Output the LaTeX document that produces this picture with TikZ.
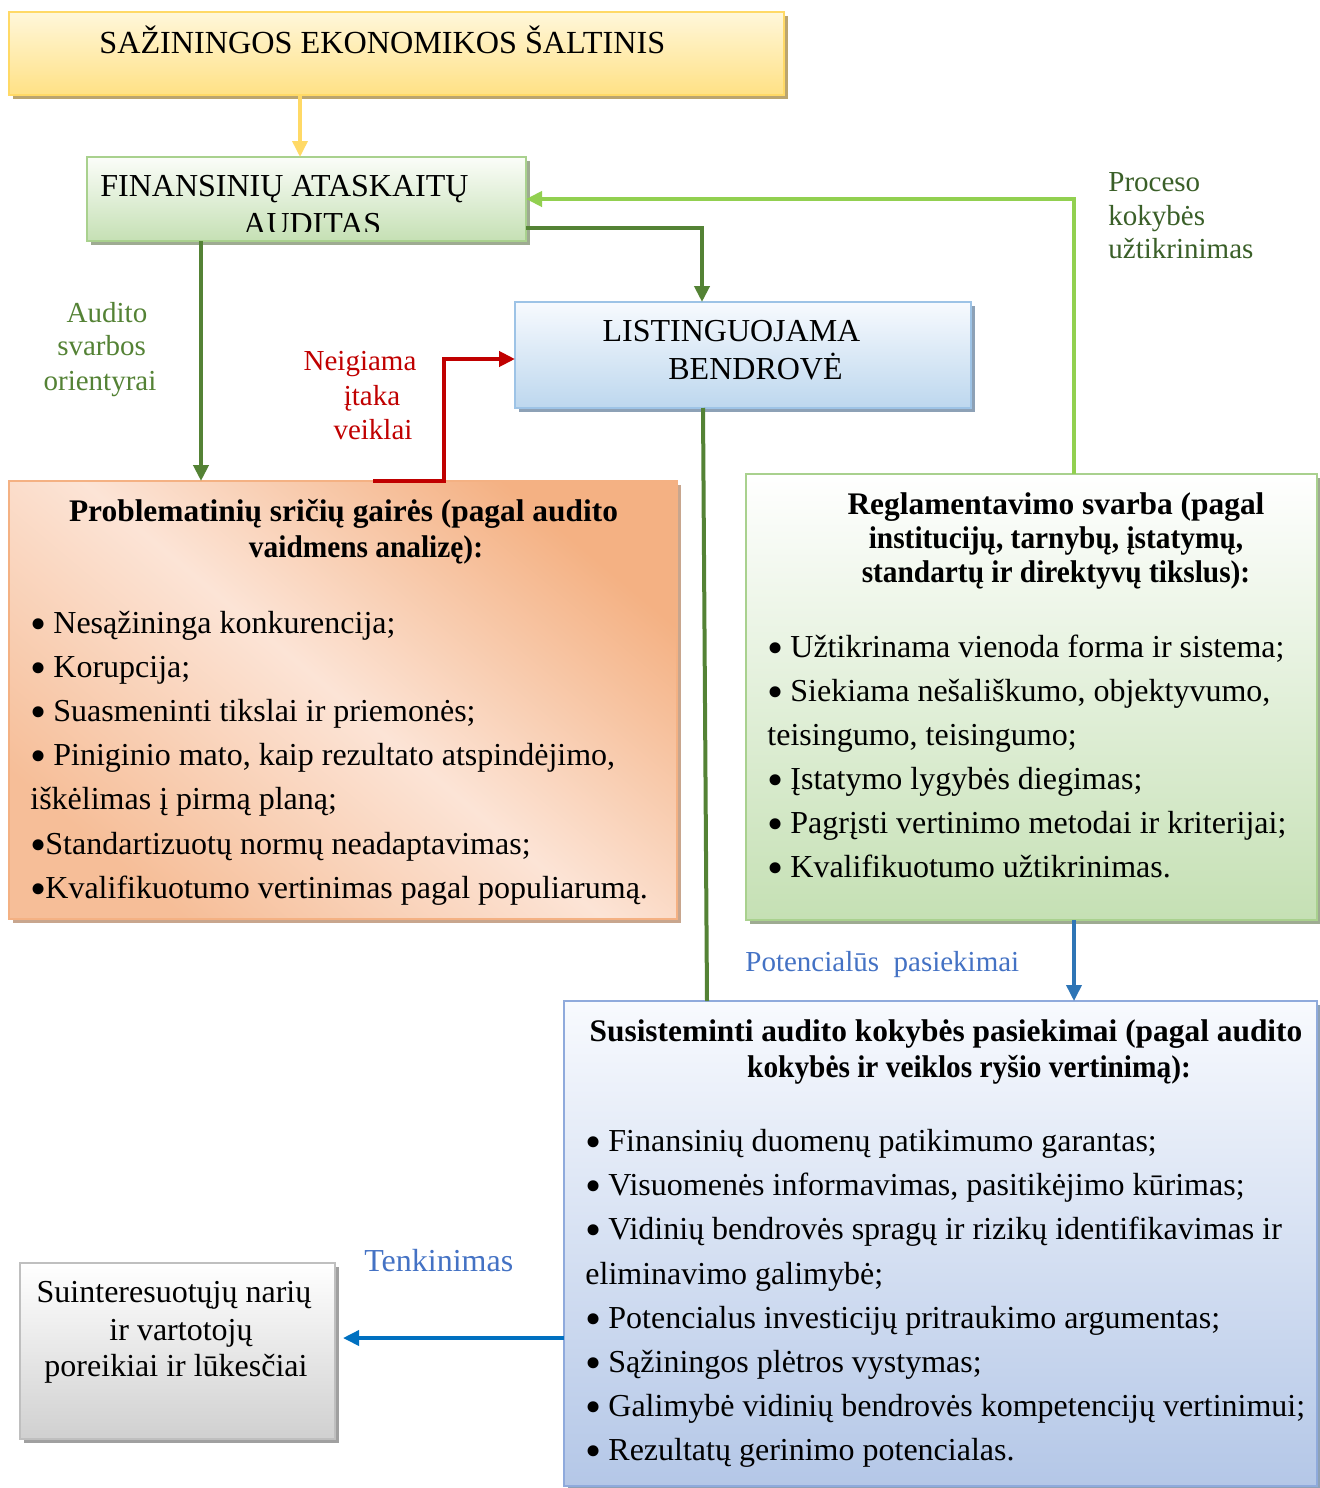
\documentclass[tikz,border=0pt]{standalone}
\usepackage{fontspec}
\setmainfont{Liberation Serif}
\usetikzlibrary{arrows.meta,fit,shadows}

\definecolor{yelBorder}{HTML}{FFD966}
\definecolor{yelTop}{HTML}{FFF7DA}
\definecolor{yelBot}{HTML}{FFE185}
\definecolor{yelShadow}{HTML}{BBA56F}
\definecolor{grnBorder}{HTML}{A9D18E}
\definecolor{grnTop}{HTML}{FBFDF9}
\definecolor{grnBot}{HTML}{C5E0B4}
\definecolor{grnShadow}{HTML}{9EAB92}
\definecolor{bluBorder}{HTML}{9DC3E6}
\definecolor{bluTop}{HTML}{F7FAFE}
\definecolor{bluBot}{HTML}{BDD7EE}
\definecolor{bluShadow}{HTML}{8DA1B6}
\definecolor{susBorder}{HTML}{8FAADC}
\definecolor{susTop}{HTML}{F8FAFE}
\definecolor{susBot}{HTML}{B4C7E7}
\definecolor{orBorder}{HTML}{F4B183}
\definecolor{orDark}{HTML}{F4B183}
\definecolor{orLight}{HTML}{FCE4D6}
\definecolor{orShadow}{HTML}{C8A68E}
\definecolor{gryBorder}{HTML}{BFBFBF}
\definecolor{gryBot}{HTML}{D0D0D0}
\definecolor{gryShadow}{HTML}{A0A0A0}
\definecolor{arrYellow}{HTML}{FFD966}
\definecolor{arrDkGreen}{HTML}{548235}
\definecolor{arrLtGreen}{HTML}{92D050}
\definecolor{arrRed}{HTML}{C00000}
\definecolor{arrBlue}{HTML}{2E75B6}
\definecolor{arrBlue2}{HTML}{0070C0}
\definecolor{lblGreen}{HTML}{548235}
\definecolor{lblDkGreen}{HTML}{3A5F28}
\definecolor{lblBlue}{HTML}{4472C4}

% enlarged list bullet in a box of fixed advance width
\newcommand\bul{\makebox[7.5pt][l]{\fontsize{23pt}{23pt}\selectfont\raisebox{-3pt}{•}}}
% slightly condensed heading line
\newcommand\narrow[1]{\scalebox{0.935}[1]{#1}}

\tikzset{
  box/.style={draw=#1, line width=1.3pt, inner sep=0pt, outer sep=0pt},
  shadowed/.style={drop shadow={shadow xshift=2.2pt, shadow yshift=-2.2pt, fill=#1, opacity=1}},
  conn/.style={draw=#1, line width=2pt, -{Triangle[length=8pt,width=7.5pt]}},
  plainconn/.style={draw=#1, line width=2pt},
  txt/.style={inner sep=0pt, anchor=base west, font=\fontsize{16pt}{22pt}\selectfont},
  txtc/.style={inner sep=0pt, anchor=base, font=\fontsize{16pt}{22pt}\selectfont},
  head/.style={inner sep=0pt, anchor=base, font=\fontsize{15.7pt}{20pt}\selectfont\bfseries},
  lbl/.style={inner sep=0pt, anchor=base, font=\fontsize{14.5pt}{18pt}\selectfont, text=#1},
  lblw/.style={inner sep=0pt, anchor=base west, font=\fontsize{14.5pt}{18pt}\selectfont, text=#1},
}

\begin{document}
\begin{tikzpicture}[x=0.5pt, y=-0.5pt]
\useasboundingbox (0,0) rectangle (1320,1488);

% ---------- boxes ----------
\node[box=yelBorder, shadowed=yelShadow, top color=yelTop, bottom color=yelBot,
      fit={(9,12) (784,95)}] (src) {};
\node[box=grnBorder, shadowed=grnShadow, top color=grnTop, bottom color=grnBot,
      fit={(87,157) (526,241)}] (fin) {};
\node[box=bluBorder, shadowed=bluShadow, top color=bluTop, bottom color=bluBot,
      fit={(515,302) (971,408)}] (list) {};
\node[box=orBorder, shadowed=orShadow, top color=orDark, bottom color=orDark!75!orLight,
      middle color=orLight, shading angle=-40,
      fit={(9,481) (677,919)}] (prob) {};
\node[box=grnBorder, shadowed=grnShadow, top color=white, bottom color=grnBot,
      fit={(746,474) (1317,920)}] (reg) {};
\node[box=susBorder, shadowed=bluShadow, top color=susTop, bottom color=susBot,
      fit={(564,1001) (1317,1486)}] (sus) {};
\node[box=gryBorder, shadowed=gryShadow, top color=white, bottom color=gryBot,
      fit={(20,1263) (335,1439)}] (stake) {};

% ---------- connectors ----------
\draw[conn=arrYellow, line width=1.8pt] (src.south -| 300,0) -- (fin.north -| 300,0);
\draw[conn=arrDkGreen] (fin.south -| 201,0) -- (prob.north -| 201,0);
\draw[conn=arrDkGreen] (fin.east |- 0,228) -| (list.north -| 702,0);
\draw[conn=arrLtGreen] (reg.north -| 1074,0) |- (fin.east |- 0,199);
\draw[conn=arrRed] (prob.north -| 373,0) -- (prob.north -| 444,0) |- (list.west |- 0,359);
\draw[plainconn=arrDkGreen] (list.south -| 703,0) -- (sus.north -| 707,0);
\draw[conn=arrBlue, line width=1.8pt] (reg.south -| 1074,0) -- (sus.north -| 1074,0);
\draw[conn=arrBlue2, line width=1.8pt, shorten >=4pt] (sus.west |- 0,1338) -- (stake.east |- 0,1338);

% ---------- box texts ----------
\node[txt, font=\fontsize{16.1pt}{20pt}\selectfont] (srcT) at (99,54) {SAŽININGOS EKONOMIKOS ŠALTINIS};

\begin{scope}
  \clip (88,158) rectangle (525,231);
  \node[txt] (finT1) at (100,196) {FINANSINIŲ ATASKAITŲ};
  \node[txt] (finT2) at (243,234) {AUDITAS};
\end{scope}

\node[txtc] (listT1) at (731.5,341.7) {LISTINGUOJAMA};
\node[txtc] (listT2) at (755.5,379) {BENDROVĖ};

\node[head] (probH1) at (343.5,521) {Problematinių sričių gairės (pagal audito};
\node[head] (probH2) at (366,557) {\narrow{vaidmens analizę):}};
\foreach \t [count=\i] in {
  {\bul\ Nesąžininga konkurencija;},
  {\bul\ Korupcija;},
  {\bul\ Suasmeninti tikslai ir priemonės;},
  {\bul\ Piniginio mato, kaip rezultato atspindėjimo,},
  {iškėlimas į pirmą planą;},
  {\bul Standartizuotų normų neadaptavimas;},
  {\bul Kvalifikuotumo vertinimas pagal populiarumą.}}
  \node[txt] (probL\i) at (30,{633+44.2*(\i-1)}) {\t};

\node[head] (regH1) at (1056,514) {Reglamentavimo svarba (pagal};
\node[head] (regH2) at (1056,548) {\narrow{institucijų, tarnybų, įstatymų,}};
\node[head] (regH3) at (1056,582) {\narrow{standartų ir direktyvų tikslus):}};
\foreach \t [count=\i] in {
  {\bul\ Užtikrinama vienoda forma ir sistema;},
  {\bul\ Siekiama nešališkumo, objektyvumo,},
  {teisingumo, teisingumo;},
  {\bul\ Įstatymo lygybės diegimas;},
  {\bul\ Pagrįsti vertinimo metodai ir kriterijai;},
  {\bul\ Kvalifikuotumo užtikrinimas.}}
  \node[txt] (regL\i) at (767,{657.7+44*(\i-1)}) {\t};

\node[head] (susH1) at (946,1041.7) {Susisteminti audito kokybės pasiekimai (pagal audito};
\node[head] (susH2) at (969,1077) {\narrow{kokybės ir veiklos ryšio vertinimą):}};
\foreach \t [count=\i] in {
  {\bul\ Finansinių duomenų patikimumo garantas;},
  {\bul\ Visuomenės informavimas, pasitikėjimo kūrimas;},
  {\bul\ Vidinių bendrovės spragų ir rizikų identifikavimas ir},
  {eliminavimo galimybė;},
  {\bul\ Potencialus investicijų pritraukimo argumentas;},
  {\bul\ Sąžiningos plėtros vystymas;},
  {\bul\ Galimybė vidinių bendrovės kompetencijų vertinimui;},
  {\bul\ Rezultatų gerinimo potencialas.}}
  \node[txt] (susL\i) at (585,{1151.7+44.1*(\i-1)}) {\t};

\node[txtc] (stakeT1) at (174,1302.7) {Suinteresuotųjų narių};
\node[txtc] (stakeT2) at (181,1340) {ir vartotojų};
\node[txtc] (stakeT3) at (176,1376.7) {poreikiai ir lūkesčiai};

% ---------- connector labels ----------
\node[lbl=lblGreen] (audL1) at (107,322.7) {Audito};
\node[lbl=lblGreen] (audL2) at (101.6,355) {svarbos};
\node[lbl=lblGreen] (audL3) at (100,390) {orientyrai};

\node[lbl=arrRed] (negL1) at (360,370) {Neigiama};
\node[lbl=arrRed] (negL2) at (372,405) {įtaka};
\node[lbl=arrRed] (negL3) at (373,439) {veiklai};

\node[lblw=lblDkGreen] (proL1) at (1108,191.7) {Proceso};
\node[lblw=lblDkGreen] (proL2) at (1108,225) {kokybės};
\node[lblw=lblDkGreen] (proL3) at (1108,258) {užtikrinimas};

\node[lblw=lblBlue] (potL) at (745,971.7) {Potencialūs~ pasiekimai};
\node[lblw=lblBlue, font=\fontsize{16pt}{20pt}\selectfont] (tenL) at (364,1271) {Tenkinimas};

\end{tikzpicture}
\end{document}
